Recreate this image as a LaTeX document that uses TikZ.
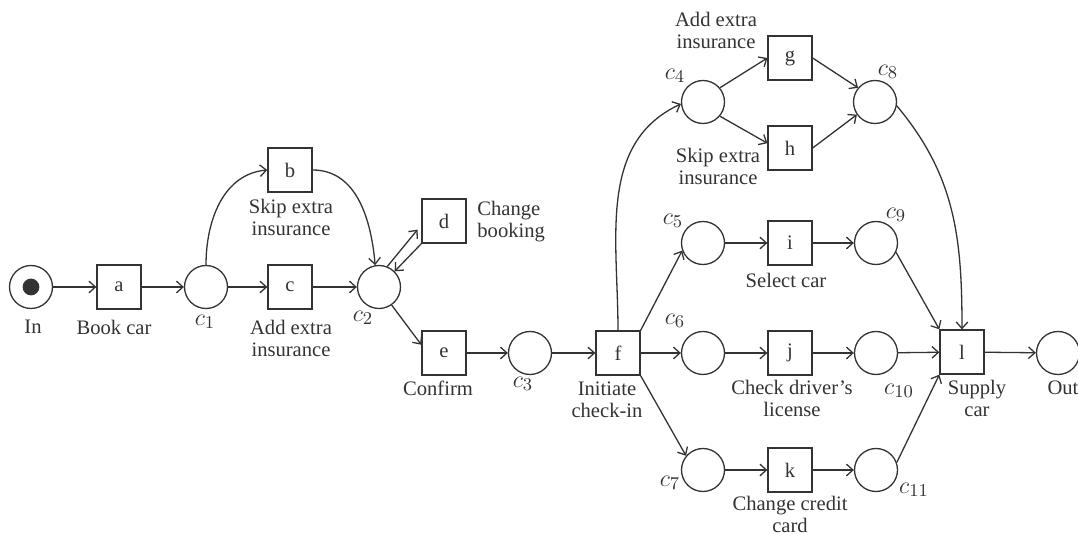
\documentclass[tikz,border=0pt]{standalone}
\usepackage{fontspec}
\setmainfont{Liberation Serif}
\usetikzlibrary{arrows.meta}
\definecolor{ink}{gray}{0.2}
\begin{document}
\begin{tikzpicture}[x=0.5pt,y=0.5pt,
  every node/.style={font=\fontsize{10.3}{11}\selectfont, text=ink},
  place/.style={circle,draw=ink,line width=0.65pt,minimum size=21.5pt,inner sep=0pt},
  trans/.style={rectangle,draw=ink,line width=0.65pt,minimum size=22pt,inner sep=0pt},
  lbl/.style={align=center,inner sep=0pt},
  cname/.style={inner sep=0pt,font=\fontsize{12.3}{13}\selectfont},
  arc/.style={draw=ink,line width=0.65pt,-{Straight Barb[length=3.2pt,width=5.8pt]}},
]
\useasboundingbox (0,0) rectangle (1078,-534);

% places
\node[place] (in)  at (31,-287) {};
\fill[ink] (in.center) circle (4.2pt);
\node[place] (c1)  at (206,-287) {};
\node[place] (c2)  at (379,-287) {};
\node[place] (c3)  at (530,-353) {};
\node[place] (c4)  at (703,-102) {};
\node[place] (c5)  at (703,-243) {};
\node[place] (c6)  at (703,-353) {};
\node[place] (c7)  at (703,-470) {};
\node[place] (c8)  at (875,-102) {};
\node[place] (c9)  at (876,-243) {};
\node[place] (c10) at (876,-353) {};
\node[place] (c11) at (876,-470) {};
\node[place] (out) at (1058,-353) {};

% transitions
\node[trans] (a) at (119,-287) {a};
\node[trans] (b) at (290,-170) {b};
\node[trans] (c) at (290,-287) {c};
\node[trans] (d) at (444,-221) {d};
\node[trans] (e) at (444,-353) {e};
\node[trans] (f) at (618,-353) {f};
\node[trans] (g) at (790,-58)  {g};
\node[trans] (h) at (790,-148) {h};
\node[trans] (i) at (790,-243) {i};
\node[trans] (j) at (790,-353) {j};
\node[trans] (k) at (790,-470) {k};
\node[trans] (l) at (962,-352) {l};

% labels
\node[lbl] (lin)  at (33,-327)  {In};
\node[lbl] (la)   at (114,-327) {Book car};
\node[cname] (lc1)  at (205,-322) {$c_1$};
\node[lbl] (lb)   at (291,-217) {Skip extra\\insurance};
\node[lbl] (lc)   at (291,-338) {Add extra\\insurance};
\node[cname] (lc2)  at (363,-318) {$c_2$};
\node[lbl,anchor=west,align=left] (ld) at (477,-222) {Change\\booking};
\node[lbl] (le)   at (438,-388) {Confirm};
\node[cname] (lc3)  at (523,-384) {$c_3$};
\node[lbl] (lf)   at (607,-400) {Initiate\\check-in};
\node[cname] (lc4)  at (675,-76)  {$c_4$};
\node[lbl] (lg)   at (716,-30)  {Add extra\\insurance};
\node[lbl] (lh)   at (718,-166) {Skip extra\\insurance};
\node[cname] (lc8)  at (888,-72)  {$c_8$};
\node[cname] (lc5)  at (673,-221) {$c_5$};
\node[lbl] (li)   at (786,-280) {Select car};
\node[cname] (lc9)  at (896,-215) {$c_9$};
\node[cname] (lc6)  at (675,-321) {$c_6$};
\node[lbl] (lj)   at (792,-398) {Check driver's\\license};
\node[cname] (lc10) at (899,-391) {$c_{10}$};
\node[cname] (lc7)  at (670,-483) {$c_7$};
\node[lbl] (lk)   at (790,-514) {Change credit\\card};
\node[cname] (lc11) at (914,-490) {$c_{11}$};
\node[lbl] (ll)   at (977,-398) {Supply\\car};
\node[lbl] (lout) at (1063,-388) {Out};

% arcs
\draw[arc] (in) -- (a);
\draw[arc] (a) -- (c1);
\draw[arc] (c1) -- (c);
\draw[arc] (c1.north) to[out=90,in=185] (b.west);
\draw[arc] (c) -- (c2);
\draw[arc] (b.east) to[out=0,in=95] (c2.100);
\draw[arc,shorten >=3pt] (c2.68) -- (d.190);
\draw[arc] (d.south west) -- (c2.45);
\draw[arc] (c2.-55) -- (e.160);
\draw[arc] (e) -- (c3);
\draw[arc] (c3) -- (f);
\draw[arc] (f.north) to[out=90,in=205] (c4.185);
\draw[arc] (f.north east) -- (c5.200);
\draw[arc] (f) -- (c6);
\draw[arc] (f.south east) -- (c7.140);
\draw[arc] (c4.40) -- (g.west);
\draw[arc] (c4.-40) -- (h.168);
\draw[arc] (g.east) -- (c8.140);
\draw[arc] (h.east) -- (c8.215);
\draw[arc] (c5) -- (i);
\draw[arc] (i) -- (c9);
\draw[arc] (c6) -- (j);
\draw[arc] (j) -- (c10);
\draw[arc] (c7) -- (k);
\draw[arc] (k) -- (c11);
\draw[arc] (c8.-10) to[out=-50,in=90] (l.north);
\draw[arc] (c9.-25) -- (l.north west);
\draw[arc] (c10) -- (l);
\draw[arc] (c11.20) -- (l.south west);
\draw[arc] (l) -- (out);
\end{tikzpicture}
\end{document}
